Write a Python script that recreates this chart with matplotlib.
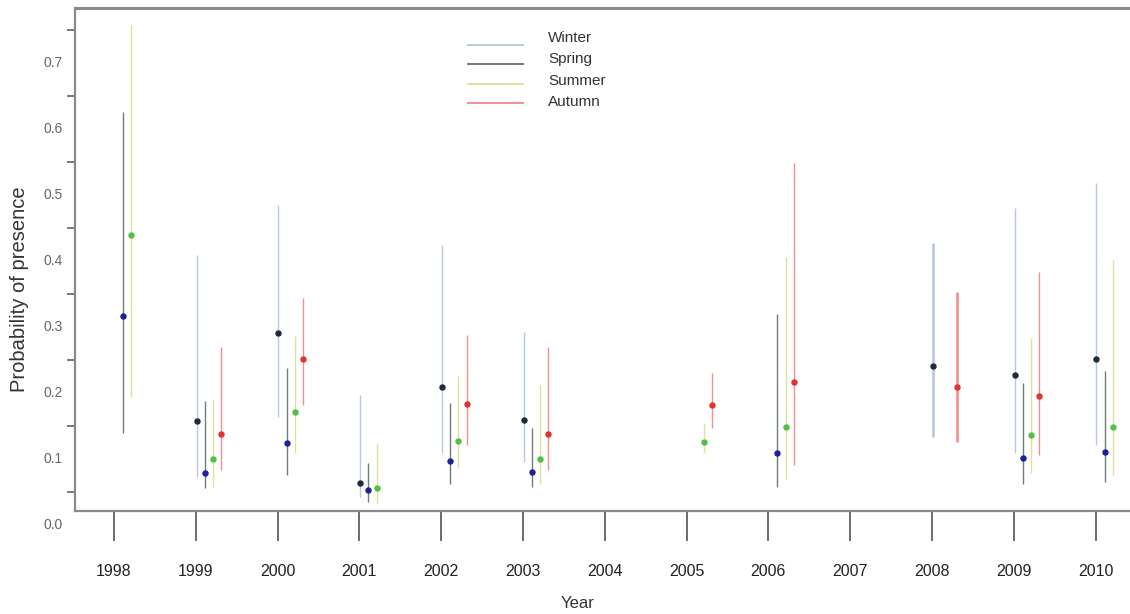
import matplotlib
matplotlib.use("Agg")
import matplotlib.pyplot as plt
from matplotlib.lines import Line2D
import numpy as np

plt.rcParams['font.family'] = ['Liberation Sans', 'DejaVu Sans']

years = [1998, 1999, 2000, 2001, 2002, 2003, 2004, 2005, 2006, 2007, 2008, 2009, 2010]
seasons = ["Winter", "Spring", "Summer", "Autumn"]

# year: (estimate, lower, upper) per season
winter = {
    1999: (0.158, 0.072, 0.409), 2000: (0.291, 0.164, 0.485), 2001: (0.064, 0.042, 0.197),
    2002: (0.209, 0.109, 0.424), 2003: (0.159, 0.095, 0.292), 2008: (0.241, 0.133, 0.427),
    2009: (0.227, 0.109, 0.480), 2010: (0.252, 0.121, 0.518),
}
spring = {
    1998: (0.317, 0.139, 0.626), 1999: (0.079, 0.056, 0.187), 2000: (0.124, 0.075, 0.238),
    2001: (0.053, 0.035, 0.094), 2002: (0.097, 0.062, 0.185), 2003: (0.080, 0.058, 0.147),
    2006: (0.109, 0.058, 0.320), 2009: (0.102, 0.062, 0.215), 2010: (0.111, 0.065, 0.233),
}
summer = {
    1998: (0.439, 0.194, 0.758), 1999: (0.100, 0.058, 0.189), 2000: (0.171, 0.109, 0.286),
    2001: (0.056, 0.032, 0.124), 2002: (0.127, 0.086, 0.226), 2003: (0.100, 0.062, 0.212),
    2005: (0.126, 0.109, 0.155), 2006: (0.148, 0.070, 0.406), 2009: (0.136, 0.079, 0.283),
    2010: (0.148, 0.076, 0.402),
}
autumn = {
    1999: (0.138, 0.083, 0.270), 2000: (0.252, 0.182, 0.344), 2002: (0.183, 0.121, 0.288),
    2003: (0.138, 0.083, 0.270), 2005: (0.182, 0.147, 0.230), 2006: (0.217, 0.091, 0.548),
    2008: (0.209, 0.126, 0.353), 2009: (0.195, 0.106, 0.383),
}
series = [winter, spring, summer, autumn]

y_labels = [0.0, 0.1, 0.2, 0.3, 0.4, 0.5, 0.6, 0.7]
y_ticks = [0.05, 0.15, 0.25, 0.35, 0.45, 0.55, 0.65, 0.75]

line_colors = ['#b9c9dd', '#6d7f79', '#dde39c', '#f09090']
point_colors = ['#23283f', '#1f1f9a', '#55bf45', '#e23232']
offsets = [0.01, 0.11, 0.21, 0.31]

W, H = 1130, 614
fig = plt.figure(figsize=(W / 100, H / 100), dpi=100)
ax = fig.add_axes([75 / W, 1 - 511 / H, (1140 - 75) / W, (511 - 8) / H])

for s, (data, lc, pc, off) in enumerate(zip(series, line_colors, point_colors, offsets)):
    for yr, (est, lo, hi) in data.items():
        x = yr + off
        lw = 1.9 if yr == 2008 else 1.0
        ax.plot([x, x], [lo, hi], color=lc, lw=lw, solid_capstyle='butt', zorder=2)
        ax.plot([x], [est], marker='o', ms=3.6, color=pc, mec=pc, zorder=3)

px_per_year = 81.8
ax.set_xlim(1998 - 39 / px_per_year, 1998 + (1140 - 114) / px_per_year)
ax.set_ylim(0.021, 0.783)

ax.set_xticks(years)
ax.set_xticklabels([str(y) for y in years], fontsize=11.5, color='#222222')
ax.tick_params(axis='x', direction='out', length=21.5, width=1.1, color='#444444', pad=17)
ax.set_yticks(y_ticks)
ax.set_yticklabels([])
ax.tick_params(axis='y', direction='out', length=5.8, width=1.1, color='#555555')

for v in y_labels:
    ax.text(-12 / (1140 - 75), v, f"{v:.1f}", transform=ax.get_yaxis_transform(),
            ha='right', va='center', fontsize=10, color='#666666', clip_on=False)

for side in ['left', 'bottom', 'top']:
    ax.spines[side].set_color('#8a8a8a')
    ax.spines[side].set_linewidth(1.6)
ax.spines['top'].set_linewidth(2.2)
ax.spines['right'].set_visible(False)

fig.text(20 / W, 1 - 289 / H, "Probability of presence", rotation=90, ha='center', va='center',
         fontsize=14.5, color='#333333')
fig.text(578 / W, 1 - 603 / H, "Year", ha='center', va='center', fontsize=12, color='#333333')

# legend
for i, (name, lc) in enumerate(zip(seasons, line_colors)):
    yl = 45 + 19.3 * i
    yt = 38 + 21.3 * i
    fig.add_artist(Line2D([468 / W, 523 / W], [1 - yl / H, 1 - yl / H], color=lc, lw=1.4,
                          transform=fig.transFigure))
    fig.text(548 / W, 1 - yt / H, name, ha='left', va='center', fontsize=11, color='#333333')

fig.savefig("out.png", dpi=100)
